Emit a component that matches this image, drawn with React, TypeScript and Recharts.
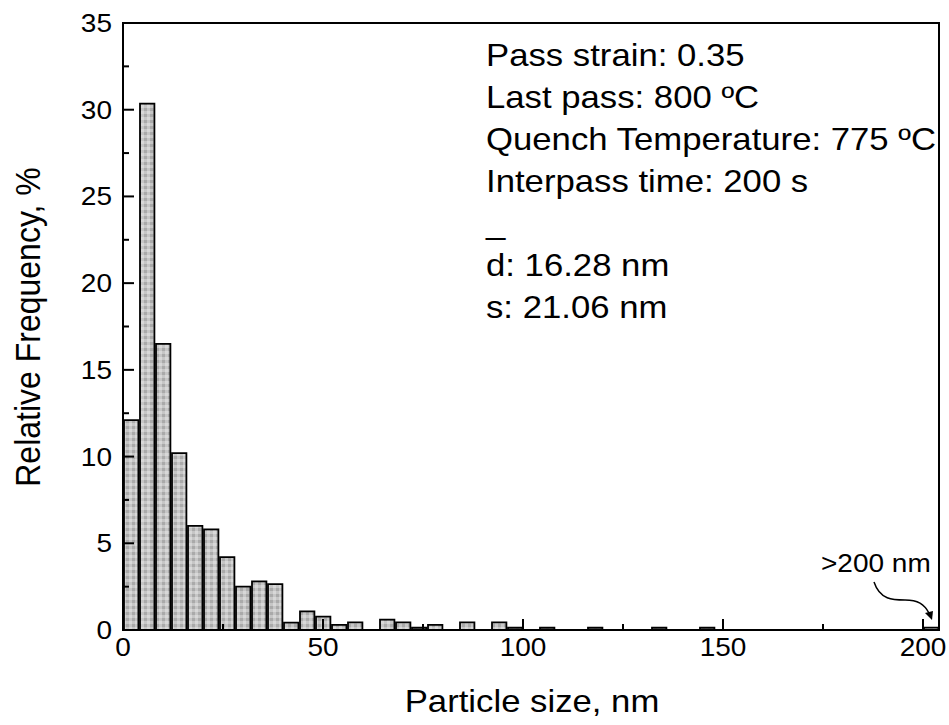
import React from 'react'
import { ComposedChart, Bar, XAxis, YAxis, ReferenceArea, Customized } from 'recharts'

// histogram bins (lower edge, nm) that hold particles, 4 nm wide
const binStart = [0, 4, 8, 12, 16, 20, 24, 28, 32, 36, 40, 44, 48, 52, 56, 64, 68, 72, 76, 84, 92, 96, 104, 116, 132, 144, 200]
// relative frequency, %
const relFreq = [12.1, 30.35, 16.5, 10.2, 6.0, 5.8, 4.2, 2.5, 2.8, 2.65, 0.42, 1.07, 0.77, 0.29, 0.44, 0.6, 0.44, 0.13, 0.29, 0.44, 0.44, 0.13, 0.13, 0.13, 0.13, 0.13, 0.14]
const BIN_WIDTH = 4

const xTicks = [0, 25, 50, 75, 100, 125, 150, 175, 200]
const xMajor = [0, 50, 100, 150, 200]
const yTicks = [0, 2.5, 5, 7.5, 10, 12.5, 15, 17.5, 20, 22.5, 25, 27.5, 30, 32.5, 35]
const yMajor = [0, 5, 10, 15, 20, 25, 30, 35]

const infoLines = ['Pass strain: 0.35', 'Last pass: 800 ºC', 'Quench Temperature: 775 ºC', 'Interpass time: 200 s']
const statLines = ['d: 16.28 nm', 's: 21.06 nm']

const X_MAX = 204
const Y_MAX = 35

const W = 949
const H = 725
const M = { top: 23, right: 10, left: 0, bottom: 0 }
const Y_AXIS_W = 123
const X_AXIS_H = 95
const PLOT_W = W - M.left - M.right - Y_AXIS_W
const FONT = '"Liberation Sans", Arial, Helvetica, sans-serif'
const SX = 1.12 // the original text is a bit wider than Arial

const data = binStart.map((s, i) => ({ mid: s + BIN_WIDTH / 2, freq: relFreq[i] }))

function StretchText({ x, y, size, anchor = 'start', rotate = 0, children }: any) {
  return (
    <text
      transform={`translate(${x} ${y}) scale(${SX} 1) rotate(${rotate})`}
      fontSize={size}
      fontFamily={FONT}
      fill="#000"
      textAnchor={anchor}
    >
      {children}
    </text>
  )
}

const XTick = (props: any) => {
  const { x, y, payload } = props
  const major = xMajor.includes(payload.value)
  return (
    <g>
      <line x1={x} x2={x} y1={y} y2={y - (major ? 11 : 6)} stroke="#000" strokeWidth={2} />
      {major && <StretchText x={x} y={y + 26} size={25} anchor="middle">{payload.value}</StretchText>}
    </g>
  )
}

const YTick = (props: any) => {
  const { x, y, payload } = props
  const major = yMajor.includes(payload.value)
  return (
    <g>
      <line x1={x} x2={x + (major ? 11 : 6)} y1={y} y2={y} stroke="#000" strokeWidth={2} />
      {major && <StretchText x={x - 11} y={y + 9} size={25} anchor="end">{payload.value}</StretchText>}
    </g>
  )
}

const Annotations = () => {
  const tx = 486
  return (
    <g>
      {infoLines.map((t, i) => (
        <StretchText key={t} x={tx} y={66 + i * 42} size={31}>{t}</StretchText>
      ))}
      <StretchText x={tx} y={234} size={31}>_</StretchText>
      {statLines.map((t, i) => (
        <StretchText key={t} x={tx} y={276 + i * 42} size={31}>{t}</StretchText>
      ))}
      <StretchText x={821} y={572} size={25}>&gt;200 nm</StretchText>
      <path d="M874,582 C880,600 893,600 905,600 C918,600 924,604 929,613" fill="none" stroke="#000" strokeWidth={1.5} />
      <path d="M925,613 L933,611 L932,620 Z" fill="#000" />
      <StretchText x={40} y={327} size={32} anchor="middle" rotate={-90}>Relative Frequency, %</StretchText>
      <StretchText x={532} y={712} size={31} anchor="middle">Particle size, nm</StretchText>
    </g>
  )
}

export default function App() {
  return (
    <div style={{ position: 'absolute', left: 0, top: 0, width: W, height: H, background: '#fff' }}>
      <ComposedChart width={W} height={H} data={data} margin={M}>
        <defs>
          <pattern id="checker" width="6" height="6" patternUnits="userSpaceOnUse">
            <rect width="6" height="6" fill="#c6c6c6" />
            <rect width="3" height="3" fill="#aaaaaa" />
            <rect x="3" y="3" width="3" height="3" fill="#d8d8d8" />
          </pattern>
        </defs>
        <XAxis
          dataKey="mid"
          type="number"
          domain={[0, X_MAX]}
          ticks={xTicks}
          interval={0}
          height={X_AXIS_H}
          axisLine={false}
          tickLine={false}
          tickSize={0}
          tickMargin={0}
          tick={<XTick />}
          allowDataOverflow
        />
        <YAxis
          type="number"
          domain={[0, Y_MAX]}
          ticks={yTicks}
          interval={0}
          width={Y_AXIS_W}
          axisLine={false}
          tickLine={false}
          tickSize={0}
          tickMargin={0}
          tick={<YTick />}
          allowDataOverflow
        />
        <Bar
          dataKey="freq"
          barSize={(BIN_WIDTH * PLOT_W) / X_MAX}
          fill="url(#checker)"
          stroke="#000"
          strokeWidth={1.8}
          isAnimationActive={false}
        />
        <ReferenceArea x1={0} x2={X_MAX} y1={0} y2={Y_MAX} fill="none" stroke="#000" strokeWidth={2} ifOverflow="visible" />
        <Customized component={Annotations} />
      </ComposedChart>
    </div>
  )
}
